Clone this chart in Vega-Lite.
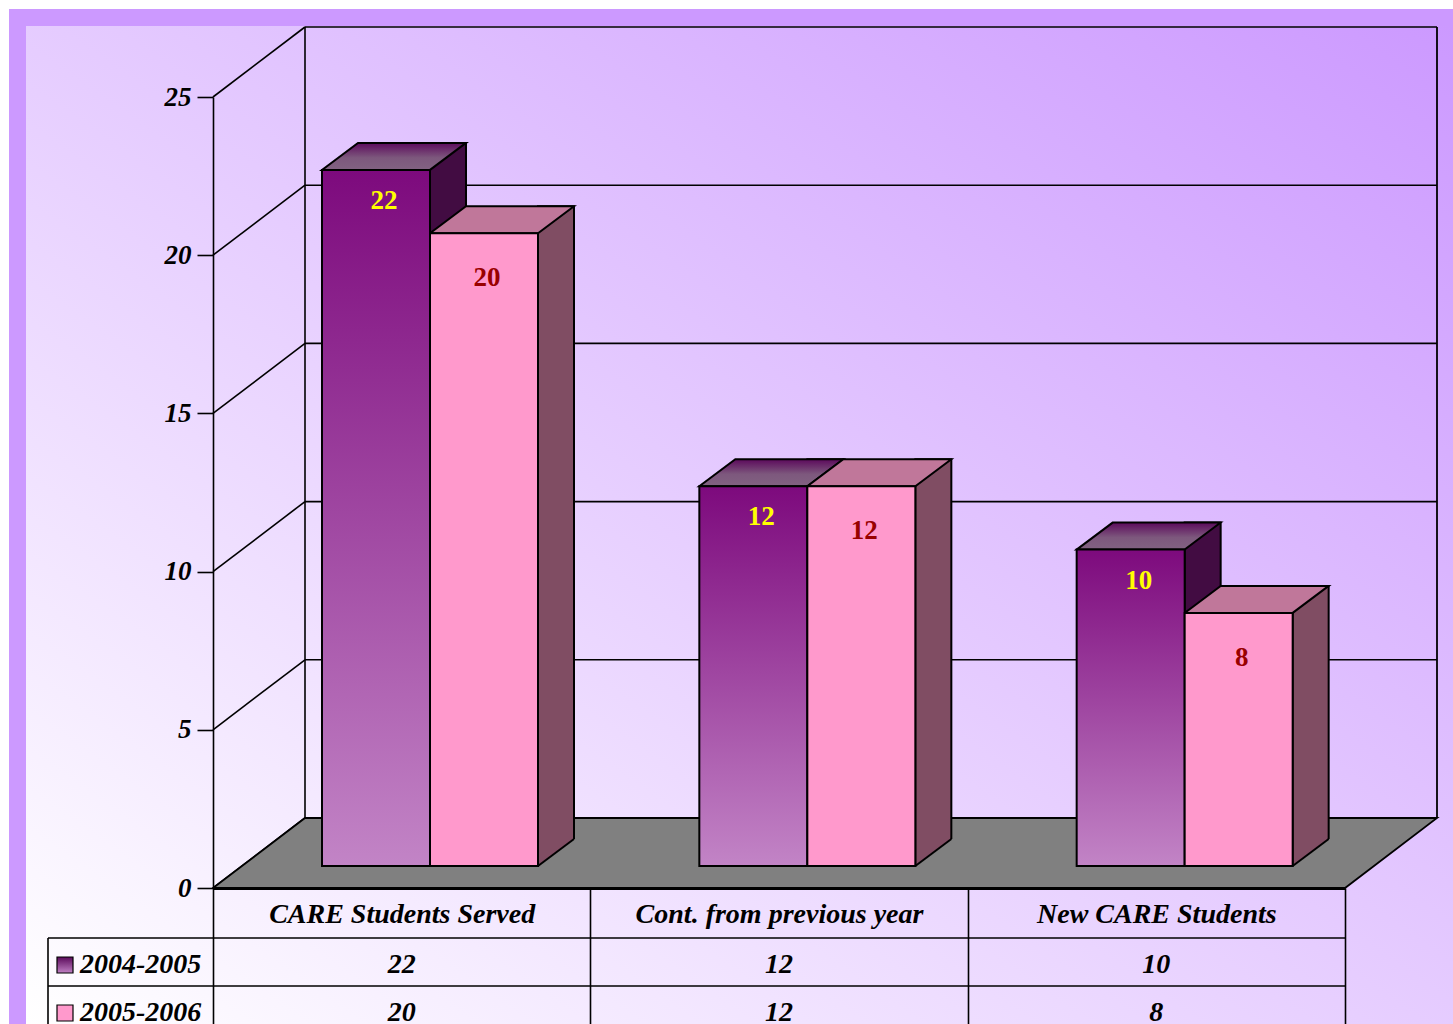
{
  "$schema": "https://vega.github.io/schema/vega-lite/v6.json",
  "width": 1427,
  "height": 998,
  "autosize": "none",
  "padding": {"left": 26, "top": 26, "right": 0, "bottom": 0},
  "background": "#ffffff",
  "config": {"view": {"stroke": "#cc99ff", "strokeWidth": 34}, "font": "Liberation Serif"},
  "datasets": {
    "bars": [
      {"category": "CARE Students Served", "series": "2004-2005", "value": 22},
      {"category": "CARE Students Served", "series": "2005-2006", "value": 20},
      {"category": "Cont. from previous year", "series": "2004-2005", "value": 12},
      {"category": "Cont. from previous year", "series": "2005-2006", "value": 12},
      {"category": "New CARE Students", "series": "2004-2005", "value": 10},
      {"category": "New CARE Students", "series": "2005-2006", "value": 8}
    ],
    "ticks": [{"v": 0}, {"v": 5}, {"v": 10}, {"v": 15}, {"v": 20}, {"v": 25}]
  },
  "data": {"name": "bars"},
  "resolve": {"scale": {"y": "independent"}},
  "layer": [
    {
      "data": {"values": [{}]},
      "mark": {"type": "rect", "strokeWidth": 0, "fill": {"gradient": "linear", "x1": 0, "y1": 1, "x2": 1, "y2": 0, "stops": [{"offset": 0, "color": "#ffffff"}, {"offset": 1, "color": "#cc99ff"}]}},
      "encoding": {}
    },
    {
      "resolve": {"scale": {"xOffset": "independent"}},
      "layer": [
        {
          "data": {"name": "ticks"},
          "mark": {"type": "rule", "color": "black", "strokeWidth": 1.6, "x2Offset": 92, "y2Offset": -70},
          "encoding": {
            "x": {"datum": "CARE Students Served", "type": "nominal", "bandPosition": 0, "title": null,
                  "scale": {"domain": ["CARE Students Served", "Cont. from previous year", "New CARE Students"], "range": [187, 1319], "paddingInner": 0, "paddingOuter": 0},
                  "axis": {"orient": "bottom", "offset": -136, "domainColor": "black", "domainWidth": 2.8, "ticks": true, "tickBand": "extent", "tickSize": 146, "tickWidth": 1.6, "tickColor": "black", "labelFont": "Liberation Serif", "labelFontSize": 28, "labelFontStyle": "italic", "labelFontWeight": "bold", "labelColor": "black", "labelPadding": -120, "labelBaseline": "middle", "labelLimit": 600, "labelOverlap": false, "labelAngle": 0, "title": null, "grid": false, "zindex": 1}},
            "x2": {"datum": "CARE Students Served", "bandPosition": 0},
            "y": {"field": "v", "type": "quantitative", "title": null,
                  "scale": {"domain": [0, 25], "range": [862, 71], "nice": false},
                  "axis": {"values": [0, 5, 10, 15, 20, 25], "offset": -187, "tickSize": 16, "tickWidth": 1.6, "tickColor": "black", "domainColor": "black", "domainWidth": 1.6, "labelFont": "Liberation Serif", "labelFontSize": 27, "labelFontStyle": "italic", "labelFontWeight": "bold", "labelColor": "black", "labelPadding": 6, "title": null, "grid": false, "zindex": 1}},
            "y2": {"field": "v"}
          }
        },
        {
          "data": {"name": "ticks"},
          "mark": {"type": "rule", "color": "black", "strokeWidth": 1.6, "xOffset": 92, "x2Offset": 92, "yOffset": -70},
          "encoding": {
            "x": {"datum": "CARE Students Served", "type": "nominal", "bandPosition": 0, "title": null},
            "x2": {"datum": "New CARE Students", "bandPosition": 1},
            "y": {"field": "v", "type": "quantitative", "title": null}
          }
        },
        {
          "data": {"values": [{}]},
          "mark": {"type": "rule", "color": "black", "strokeWidth": 1.6, "xOffset": 92, "yOffset": -70, "y2Offset": -70},
          "encoding": {
            "x": {"datum": "CARE Students Served", "type": "nominal", "bandPosition": 0, "title": null},
            "y": {"datum": 0, "type": "quantitative", "title": null},
            "y2": {"datum": 25}
          }
        },
        {
          "data": {"values": [{}]},
          "mark": {"type": "rule", "color": "black", "strokeWidth": 1.8, "xOffset": 92, "yOffset": -70, "y2Offset": -70},
          "encoding": {
            "x": {"datum": "New CARE Students", "type": "nominal", "bandPosition": 1, "title": null},
            "y": {"datum": 0, "type": "quantitative", "title": null},
            "y2": {"datum": 25}
          }
        },
        {
          "data": {"values": [{}]},
          "mark": {"type": "point", "shape": "M0,0L1132,0L1224,-70L92,-70Z", "size": 4, "filled": true, "fill": "#808080", "stroke": "black", "strokeWidth": 1.8, "opacity": 1},
          "encoding": {
            "x": {"datum": "CARE Students Served", "type": "nominal", "bandPosition": 0, "title": null},
            "y": {"datum": 0, "type": "quantitative", "title": null}
          }
        },
        {
          "mark": {"type": "bar", "stroke": "black", "strokeWidth": 2, "yOffset": -49, "y2Offset": -22},
          "encoding": {
            "x": {"field": "category", "type": "nominal", "title": null},
            "xOffset": {"field": "series", "type": "nominal", "scale": {"domain": ["2004-2005", "2005-2006"], "range": [217, 361], "paddingInner": 0.6667, "paddingOuter": 0}},
            "y": {"field": "value", "type": "quantitative", "title": null},
            "y2": {"datum": 0},
            "color": {"field": "series", "type": "nominal", "scale": {"domain": ["2004-2005", "2005-2006"], "range": ["#420c42", "#804d63"]}, "legend": null}
          }
        },
        {
          "mark": {"type": "point", "shape": "M54,0L90,-27L92,-27L92,2L54,2Z", "size": 4, "filled": true, "color": "#808080", "strokeWidth": 0, "opacity": 1, "yOffset": -22},
          "encoding": {
            "x": {"field": "category", "type": "nominal", "title": null},
            "xOffset": {"field": "series", "type": "nominal", "scale": {"type": "point", "domain": ["2004-2005", "2005-2006"], "range": [163, 271], "padding": 0}},
            "y": {"datum": 0, "type": "quantitative", "title": null}
          }
        },
        {
          "mark": {"type": "point", "shape": "M54,0L90,-27", "size": 4, "filled": false, "color": "black", "strokeWidth": 2, "opacity": 1, "yOffset": -22},
          "encoding": {
            "x": {"field": "category", "type": "nominal", "title": null},
            "xOffset": {"field": "series", "type": "nominal", "scale": {"type": "point", "domain": ["2004-2005", "2005-2006"], "range": [163, 271], "padding": 0}},
            "y": {"datum": 0, "type": "quantitative", "title": null}
          }
        },
        {
          "transform": [{"filter": "datum.series === '2004-2005'"}],
          "mark": {"type": "point", "shape": "M-54,0L54,0L90,-27L-18,-27Z", "size": 4, "filled": true, "stroke": "black", "strokeWidth": 2, "opacity": 1, "yOffset": -22,
                   "fill": {"gradient": "linear", "x1": 0, "y1": 0, "x2": 0, "y2": 1, "stops": [{"offset": 0, "color": "#5c0a5c"}, {"offset": 0.55, "color": "#7d587d"}, {"offset": 1, "color": "#826282"}]}},
          "encoding": {
            "x": {"field": "category", "type": "nominal", "title": null},
            "xOffset": {"field": "series", "type": "nominal", "scale": {"type": "point", "domain": ["2004-2005", "2005-2006"], "range": [163, 271], "padding": 0}},
            "y": {"field": "value", "type": "quantitative", "title": null}
          }
        },
        {
          "transform": [{"filter": "datum.series === '2005-2006'"}],
          "mark": {"type": "point", "shape": "M-54,0L54,0L90,-27L-18,-27Z", "size": 4, "filled": true, "fill": "#c0779a", "stroke": "black", "strokeWidth": 2, "opacity": 1, "yOffset": -22},
          "encoding": {
            "x": {"field": "category", "type": "nominal", "title": null},
            "xOffset": {"field": "series", "type": "nominal", "scale": {"type": "point", "domain": ["2004-2005", "2005-2006"], "range": [163, 271], "padding": 0}},
            "y": {"field": "value", "type": "quantitative", "title": null}
          }
        },
        {
          "transform": [{"filter": "datum.series === '2004-2005'"}],
          "mark": {"type": "bar", "stroke": "black", "strokeWidth": 2, "yOffset": -22, "y2Offset": -22,
                   "fill": {"gradient": "linear", "x1": 0, "y1": 0, "x2": 0, "y2": 1, "stops": [{"offset": 0, "color": "#7d0a7d"}, {"offset": 1, "color": "#c284c6"}]}},
          "encoding": {
            "x": {"field": "category", "type": "nominal", "title": null},
            "xOffset": {"field": "series", "type": "nominal", "scale": {"domain": ["2004-2005", "2005-2006"], "range": [109, 325], "paddingInner": 0, "paddingOuter": 0}},
            "y": {"field": "value", "type": "quantitative", "title": null},
            "y2": {"datum": 0}
          }
        },
        {
          "transform": [{"filter": "datum.series === '2005-2006'"}],
          "mark": {"type": "bar", "stroke": "black", "strokeWidth": 2, "yOffset": -22, "y2Offset": -22, "fill": "#ff99cc"},
          "encoding": {
            "x": {"field": "category", "type": "nominal", "title": null},
            "xOffset": {"field": "series", "type": "nominal", "scale": {"domain": ["2004-2005", "2005-2006"], "range": [109, 325], "paddingInner": 0, "paddingOuter": 0}},
            "y": {"field": "value", "type": "quantitative", "title": null},
            "y2": {"datum": 0}
          }
        },
        {
          "transform": [{"filter": "datum.series === '2004-2005'"}],
          "mark": {"type": "text", "font": "Liberation Serif", "fontSize": 27, "fontWeight": "bold", "color": "#ffff00", "dx": 8, "dy": 9},
          "encoding": {
            "x": {"field": "category", "type": "nominal", "title": null},
            "xOffset": {"field": "series", "type": "nominal", "scale": {"type": "point", "domain": ["2004-2005", "2005-2006"], "range": [163, 271], "padding": 0}},
            "y": {"field": "value", "type": "quantitative", "title": null},
            "text": {"field": "value", "type": "quantitative"}
          }
        },
        {
          "transform": [{"filter": "datum.series === '2005-2006'"}],
          "mark": {"type": "text", "font": "Liberation Serif", "fontSize": 27, "fontWeight": "bold", "color": "#990000", "dx": 3, "dy": 23},
          "encoding": {
            "x": {"field": "category", "type": "nominal", "title": null},
            "xOffset": {"field": "series", "type": "nominal", "scale": {"type": "point", "domain": ["2004-2005", "2005-2006"], "range": [163, 271], "padding": 0}},
            "y": {"field": "value", "type": "quantitative", "title": null},
            "text": {"field": "value", "type": "quantitative"}
          }
        }
      ]
    },
    {
      "layer": [
        {
          "transform": [{"filter": "datum.category === 'CARE Students Served'"}],
          "mark": {"type": "rule", "color": "black", "strokeWidth": 1.6, "xOffset": -165},
          "encoding": {
            "x": {"datum": "CARE Students Served", "type": "nominal", "bandPosition": 0, "title": null},
            "x2": {"datum": "New CARE Students", "bandPosition": 1},
            "y": {"field": "series", "type": "nominal", "bandPosition": 0, "axis": null,
                  "scale": {"domain": ["2004-2005", "2005-2006"], "range": [912, 1008], "paddingInner": 0, "paddingOuter": 0}}
          }
        },
        {
          "data": {"values": [{}]},
          "mark": {"type": "rule", "color": "black", "strokeWidth": 1.6, "xOffset": -165},
          "encoding": {
            "x": {"datum": "CARE Students Served", "type": "nominal", "bandPosition": 0, "title": null},
            "y": {"datum": "2004-2005", "type": "nominal", "bandPosition": 0, "axis": null},
            "y2": {"datum": "2005-2006", "bandPosition": 1}
          }
        },
        {
          "mark": {"type": "text", "font": "Liberation Serif", "fontSize": 28, "fontStyle": "italic", "fontWeight": "bold", "color": "black", "dy": 3},
          "encoding": {
            "x": {"field": "category", "type": "nominal", "title": null},
            "y": {"field": "series", "type": "nominal", "axis": null},
            "text": {"field": "value", "type": "quantitative"}
          }
        },
        {
          "transform": [{"filter": "datum.category === 'CARE Students Served'"}],
          "mark": {"type": "text", "font": "Liberation Serif", "fontSize": 28, "fontStyle": "italic", "fontWeight": "bold", "color": "black", "align": "left", "xOffset": -133, "dy": 3},
          "encoding": {
            "x": {"datum": "CARE Students Served", "type": "nominal", "bandPosition": 0, "title": null},
            "y": {"field": "series", "type": "nominal", "axis": null},
            "text": {"field": "series", "type": "nominal"}
          }
        },
        {
          "transform": [{"filter": "datum.category === 'CARE Students Served' && datum.series === '2004-2005'"}],
          "mark": {"type": "point", "shape": "square", "size": 256, "filled": true, "stroke": "black", "strokeWidth": 1.2, "opacity": 1, "xOffset": -148, "yOffset": 3,
                   "fill": {"gradient": "linear", "x1": 0, "y1": 0, "x2": 0, "y2": 1, "stops": [{"offset": 0, "color": "#5a0a5a"}, {"offset": 1, "color": "#c080c4"}]}},
          "encoding": {
            "x": {"datum": "CARE Students Served", "type": "nominal", "bandPosition": 0, "title": null},
            "y": {"field": "series", "type": "nominal", "axis": null}
          }
        },
        {
          "transform": [{"filter": "datum.category === 'CARE Students Served' && datum.series === '2005-2006'"}],
          "mark": {"type": "point", "shape": "square", "size": 256, "filled": true, "fill": "#ff99cc", "stroke": "black", "strokeWidth": 1.2, "opacity": 1, "xOffset": -148, "yOffset": 3},
          "encoding": {
            "x": {"datum": "CARE Students Served", "type": "nominal", "bandPosition": 0, "title": null},
            "y": {"field": "series", "type": "nominal", "axis": null}
          }
        }
      ]
    }
  ]
}
